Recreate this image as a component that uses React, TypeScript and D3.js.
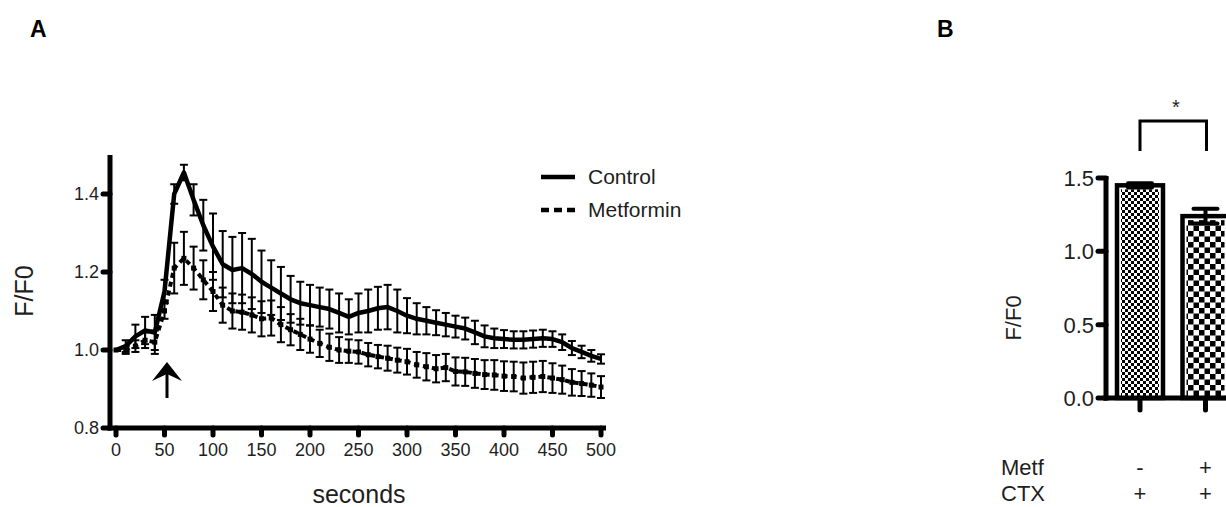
import React from "react";
import * as d3 from "d3";

// ---------- Panel A data ----------
const seconds = [0, 10, 20, 30, 40, 50, 60, 70, 80, 90, 100, 110, 120, 130, 140, 150, 160, 170, 180, 190, 200, 210, 220, 230, 240, 250, 260, 270, 280, 290, 300, 310, 320, 330, 340, 350, 360, 370, 380, 390, 400, 410, 420, 430, 440, 450, 460, 470, 480, 490, 500];
const controlMean = [1.0, 1.01, 1.035, 1.05, 1.045, 1.15, 1.4, 1.455, 1.385, 1.32, 1.265, 1.22, 1.205, 1.21, 1.195, 1.175, 1.16, 1.145, 1.13, 1.12, 1.115, 1.11, 1.105, 1.095, 1.085, 1.095, 1.1, 1.107, 1.11, 1.1, 1.088, 1.08, 1.075, 1.07, 1.065, 1.06, 1.055, 1.045, 1.035, 1.03, 1.028, 1.026, 1.026, 1.028, 1.03, 1.028, 1.02, 1.005, 0.995, 0.985, 0.977];
const controlErr = [0, 0.015, 0.03, 0.035, 0.045, 0.03, 0.025, 0.02, 0.04, 0.065, 0.085, 0.085, 0.085, 0.09, 0.09, 0.08, 0.07, 0.068, 0.06, 0.055, 0.052, 0.05, 0.05, 0.05, 0.045, 0.05, 0.055, 0.055, 0.057, 0.055, 0.045, 0.04, 0.035, 0.032, 0.03, 0.028, 0.028, 0.03, 0.028, 0.025, 0.023, 0.022, 0.022, 0.022, 0.022, 0.02, 0.02, 0.018, 0.016, 0.015, 0.012];
const metforminMean = [1.0, 1.0, 1.01, 1.025, 1.02, 1.1, 1.21, 1.235, 1.21, 1.18, 1.15, 1.115, 1.1, 1.097, 1.09, 1.08, 1.082, 1.065, 1.052, 1.04, 1.028, 1.017, 1.007, 1.0, 0.997, 0.995, 0.988, 0.983, 0.979, 0.974, 0.97, 0.962, 0.957, 0.952, 0.955, 0.945, 0.944, 0.94, 0.937, 0.936, 0.933, 0.932, 0.928, 0.93, 0.932, 0.928, 0.924, 0.917, 0.914, 0.91, 0.905];
const metforminErr = [0, 0.01, 0.015, 0.02, 0.03, 0.02, 0.065, 0.068, 0.055, 0.05, 0.05, 0.045, 0.045, 0.045, 0.045, 0.045, 0.045, 0.045, 0.04, 0.04, 0.035, 0.035, 0.035, 0.033, 0.03, 0.03, 0.03, 0.03, 0.032, 0.032, 0.033, 0.033, 0.035, 0.035, 0.035, 0.036, 0.036, 0.037, 0.037, 0.038, 0.038, 0.038, 0.04, 0.04, 0.04, 0.038, 0.036, 0.034, 0.032, 0.03, 0.028];
const xTicksA = [0, 50, 100, 150, 200, 250, 300, 350, 400, 450, 500];
const yTicksA = [0.8, 1.0, 1.2, 1.4];
const seriesNames = ["Control", "Metformin"];

// ---------- Panel B data ----------
const barGroups = ["Control", "Metformin"];
const barMean = [1.45, 1.24];
const barErr = [0.015, 0.05];
const metfSigns = ["-", "+"];
const ctxSigns = ["+", "+"];
const yTicksB = [0.0, 0.5, 1.0, 1.5];

const FONT = "'Liberation Sans', Arial, Helvetica, sans-serif";
const TXT = "#1e1e1e";

export default function App() {
  const xA = d3.scaleLinear().domain([0, 500]).range([116, 601]);
  const yA = d3.scaleLinear().domain([0.8, 1.5]).range([428, 155]);

  const ctrl = seconds.map((t, i) => ({ t, m: controlMean[i], e: controlErr[i] }));
  const metf = seconds.map((t, i) => ({ t, m: metforminMean[i], e: metforminErr[i] }));
  const line = d3
    .line<{ t: number; m: number }>()
    .x((d) => xA(d.t))
    .y((d) => yA(d.m));

  const yB = d3.scaleLinear().domain([0, 1.5]).range([398, 178]);
  const xB = d3.scalePoint<string>().domain(barGroups).range([1140, 1205.5]);
  const barW = 46;

  const errBars = (data: { t: number; m: number; e: number }[], key: string) =>
    data
      .filter((d) => d.e > 0)
      .map((d, i) => {
        const x = xA(d.t);
        const y1 = yA(d.m + d.e);
        const y2 = yA(d.m - d.e);
        return (
          <g key={key + i} stroke="#000" strokeWidth={2}>
            <line x1={x} x2={x} y1={y1} y2={y2} />
            <line x1={x - 4} x2={x + 4} y1={y1} y2={y1} />
            <line x1={x - 4} x2={x + 4} y1={y2} y2={y2} />
          </g>
        );
      });

  return (
    <svg
      width={1226}
      height={507}
      viewBox="0 0 1226 507"
      style={{ position: "absolute", left: 0, top: 0, background: "#fff" }}
      fontFamily={FONT}
    >
      <defs>
        <pattern id="fineCheck" width={6} height={6} patternUnits="userSpaceOnUse">
          <rect width={6} height={6} fill="#fff" />
          <rect x={0} y={0} width={3} height={3} fill="#000" />
          <rect x={3} y={3} width={3} height={3} fill="#000" />
        </pattern>
        <pattern id="coarseCheck" width={11} height={11} patternUnits="userSpaceOnUse">
          <rect width={11} height={11} fill="#fff" />
          <rect x={0} y={0} width={5.5} height={5.5} fill="#000" />
          <rect x={5.5} y={5.5} width={5.5} height={5.5} fill="#000" />
        </pattern>
      </defs>
      <rect width={1226} height={507} fill="#fff" />

      {/* ---------------- Panel A ---------------- */}
      <text x={30} y={37} fontSize={23} fontWeight="bold" fill="#000">A</text>

      {/* error bars */}
      {errBars(ctrl, "c")}
      {errBars(metf, "m")}

      {/* lines */}
      <path d={line(ctrl) || ""} fill="none" stroke="#000" strokeWidth={4.5} strokeLinejoin="round" />
      <path d={line(metf) || ""} fill="none" stroke="#000" strokeWidth={4} strokeDasharray="5,4" />
      {metf.map((d, i) => (
        <rect key={"ms" + i} x={xA(d.t) - 2.5} y={yA(d.m) - 2.5} width={5} height={5} fill="#000" />
      ))}

      {/* axes */}
      <line x1={110} x2={110} y1={155} y2={430.5} stroke="#000" strokeWidth={5} />
      <line x1={107.5} x2={606} y1={428} y2={428} stroke="#000" strokeWidth={5} />
      {yTicksA.map((v) => (
        <g key={"ya" + v}>
          <line x1={103} x2={110} y1={yA(v)} y2={yA(v)} stroke="#000" strokeWidth={5} strokeLinecap="round" />
          <text x={99} y={yA(v)} dy="0.36em" textAnchor="end" fontSize={18} fill={TXT}>
            {v.toFixed(1)}
          </text>
        </g>
      ))}
      {xTicksA.map((v) => (
        <g key={"xa" + v}>
          <line x1={xA(v)} x2={xA(v)} y1={428} y2={435} stroke="#000" strokeWidth={5} strokeLinecap="round" />
          <text x={xA(v)} y={456} textAnchor="middle" fontSize={18} fill={TXT}>
            {v}
          </text>
        </g>
      ))}
      <text x={359} y={503} textAnchor="middle" fontSize={25} fill={TXT}>seconds</text>
      <text transform="translate(33,291) rotate(-90)" textAnchor="middle" fontSize={25} fill={TXT}>F/F0</text>

      {/* arrow */}
      <line x1={167} x2={167} y1={398} y2={372} stroke="#000" strokeWidth={3} />
      <path d="M167,362 L152,381 L167,374 L182,381 Z" fill="#000" />

      {/* legend */}
      <line x1={541} x2={575} y1={177} y2={177} stroke="#000" strokeWidth={4.5} />
      <text x={588} y={184} fontSize={21} fill={TXT}>{seriesNames[0]}</text>
      <line x1={541} x2={577} y1={210} y2={210} stroke="#000" strokeWidth={4.5} strokeDasharray="8,5" />
      <text x={588} y={217} fontSize={21} fill={TXT}>{seriesNames[1]}</text>

      {/* ---------------- Panel B ---------------- */}
      <text x={937} y={37} fontSize={23} fontWeight="bold" fill="#000">B</text>

      {barGroups.map((g, i) => {
        const cx = xB(g) as number;
        const top = yB(barMean[i]);
        return (
          <g key={"bar" + g}>
            <rect x={cx - barW / 2} y={top} width={barW} height={398 - top} fill="#fff" stroke="#000" strokeWidth={4.5} />
            <rect
              x={cx - barW / 2 + 4}
              y={top + 4}
              width={barW - 8}
              height={398 - top - 6}
              fill={i === 0 ? "url(#fineCheck)" : "url(#coarseCheck)"}
            />
            <g stroke="#000" strokeWidth={4}>
              <line x1={cx} x2={cx} y1={yB(barMean[i] + barErr[i])} y2={yB(barMean[i] - barErr[i])} />
              <line x1={cx - 12} x2={cx + 12} y1={yB(barMean[i] + barErr[i])} y2={yB(barMean[i] + barErr[i])} strokeLinecap="round" />
              <line x1={cx - 12} x2={cx + 12} y1={yB(barMean[i] - barErr[i])} y2={yB(barMean[i] - barErr[i])} strokeLinecap="round" />
            </g>
            <line x1={cx} x2={cx} y1={398} y2={410} stroke="#000" strokeWidth={5} strokeLinecap="round" />
            <text x={cx} y={475} textAnchor="middle" fontSize={22} fill={TXT}>{metfSigns[i]}</text>
            <text x={cx} y={501} textAnchor="middle" fontSize={22} fill={TXT}>{ctxSigns[i]}</text>
          </g>
        );
      })}

      <line x1={1106} x2={1106} y1={176} y2={400.5} stroke="#000" strokeWidth={5} />
      <line x1={1103.5} x2={1226} y1={398} y2={398} stroke="#000" strokeWidth={5} />
      {yTicksB.map((v) => (
        <g key={"yb" + v}>
          <line x1={1098} x2={1106} y1={yB(v)} y2={yB(v)} stroke="#000" strokeWidth={5} strokeLinecap="round" />
          <text x={1094} y={yB(v)} dy="0.36em" textAnchor="end" fontSize={22} fill={TXT}>
            {v.toFixed(1)}
          </text>
        </g>
      ))}
      <text transform="translate(1021,318) rotate(-90)" textAnchor="middle" fontSize={22} fill={TXT}>F/F0</text>
      <text x={1001} y={475} fontSize={22} fill={TXT}>Metf</text>
      <text x={1001} y={501} fontSize={22} fill={TXT}>CTX</text>

      {/* significance bracket */}
      <path
        d={`M${xB(barGroups[0])},151 V121 H${(xB(barGroups[1]) as number) + 1} V151`}
        fill="none"
        stroke="#000"
        strokeWidth={3}
      />
      <text x={1176} y={114} textAnchor="middle" fontSize={20} fill={TXT}>*</text>
    </svg>
  );
}
